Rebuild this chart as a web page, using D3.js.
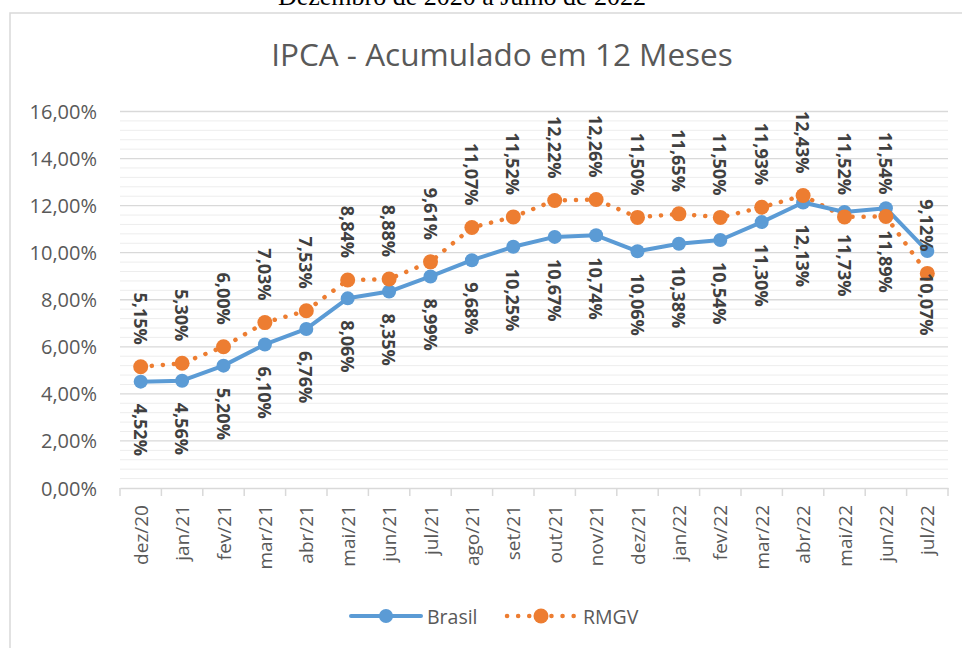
<!DOCTYPE html>
<html>
<head>
<meta charset="utf-8">
<script src="https://cdn.jsdelivr.net/npm/d3@7"></script>
<style>
  body { margin: 0; background: #fff; }
  svg text { font-family: "Open Sans", sans-serif; }
</style>
</head>
<body>
<div id="chart"></div>
<script>
// data
const months = ['dez/20', 'jan/21', 'fev/21', 'mar/21', 'abr/21', 'mai/21', 'jun/21',
  'jul/21', 'ago/21', 'set/21', 'out/21', 'nov/21', 'dez/21', 'jan/22', 'fev/22',
  'mar/22', 'abr/22', 'mai/22', 'jun/22', 'jul/22'];
const brasil = [4.52, 4.56, 5.20, 6.10, 6.76, 8.06, 8.35, 8.99, 9.68, 10.25, 10.67,
  10.74, 10.06, 10.38, 10.54, 11.30, 12.13, 11.73, 11.89, 10.07];
const rmgv = [5.15, 5.30, 6.00, 7.03, 7.53, 8.84, 8.88, 9.61, 11.07, 11.52, 12.22,
  12.26, 11.50, 11.65, 11.50, 11.93, 12.43, 11.52, 11.54, 9.12];
const yTicks = [0, 2, 4, 6, 8, 10, 12, 14, 16];
const seriesNames = ['Brasil', 'RMGV'];

const W = 962, H = 648;
const BLUE = '#5b9bd5', ORANGE = '#ed7d31';
const fmt = v => v.toFixed(2).replace('.', ',') + '%';

const svg = d3.select('#chart').append('svg')
  .attr('width', W)
  .attr('height', H);

// chart frame, runs past the right and bottom edge
svg.append('rect')
  .attr('x', 10).attr('y', 13)
  .attr('width', 1000).attr('height', 700)
  .attr('fill', '#fff')
  .attr('stroke', '#d9d9d9')
  .attr('stroke-width', 1.5);

// caption above the chart (cut at the top in the source too)
svg.append('text')
  .attr('x', 462).attr('y', 5)
  .attr('text-anchor', 'middle')
  .style('font-family', '"Liberation Serif", serif')
  .style('font-size', '26px')
  .attr('fill', '#000')
  .text('Dezembro de 2020 a Julho de 2022');

svg.append('text')
  .attr('x', 502).attr('y', 66)
  .attr('text-anchor', 'middle')
  .style('font-size', '31.5px')
  .attr('fill', '#595959')
  .text('IPCA - Acumulado em 12 Meses');

const sx = d3.scaleBand()
  .domain(months)
  .range([120, 948]);

const sy = d3.scaleLinear()
  .domain([0, 16])
  .range([488, 111.5]);

const cx = d => sx(d) + sx.bandwidth() / 2;

// minor gridlines
svg.append('g')
  .selectAll('line')
  .data(d3.range(0.4, 16, 0.4).filter(v => Math.abs(v / 2 - Math.round(v / 2)) > 0.01))
  .join('line')
  .attr('x1', 120).attr('x2', 948)
  .attr('y1', d => sy(d)).attr('y2', d => sy(d))
  .attr('stroke', '#ededed')
  .attr('stroke-width', 1);

// major gridlines
svg.append('g')
  .selectAll('line')
  .data(yTicks.slice(1))
  .join('line')
  .attr('x1', 120).attr('x2', 948)
  .attr('y1', d => sy(d)).attr('y2', d => sy(d))
  .attr('stroke', '#d9d9d9')
  .attr('stroke-width', 1.3);

// y labels
svg.append('g')
  .selectAll('text')
  .data(yTicks)
  .join('text')
  .attr('x', 97)
  .attr('y', d => sy(d))
  .attr('text-anchor', 'end')
  .attr('dominant-baseline', 'central')
  .style('font-size', '20px')
  .attr('fill', '#595959')
  .text(d => fmt(d));

// x axis
const xAxis = svg.append('g')
  .attr('transform', 'translate(0,488)')
  .call(d3.axisBottom(sx).tickSize(0).tickFormat(''));
xAxis.select('.domain').attr('stroke', '#d9d9d9').attr('stroke-width', 1.5);
xAxis.selectAll('.bound')
  .data(d3.range(months.length + 1))
  .join('line')
  .attr('class', 'bound')
  .attr('x1', i => 120 + i * sx.step()).attr('x2', i => 120 + i * sx.step())
  .attr('y1', 0).attr('y2', 8)
  .attr('stroke', '#d9d9d9')
  .attr('stroke-width', 1.5);

svg.append('g')
  .selectAll('text')
  .data(months)
  .join('text')
  .attr('transform', d => 'translate(' + cx(d) + ',505) rotate(-90)')
  .attr('text-anchor', 'end')
  .attr('dominant-baseline', 'central')
  .style('font-size', '19px')
  .attr('fill', '#595959')
  .text(d => d);

const line = d3.line()
  .x((d, i) => cx(months[i]))
  .y(d => sy(d));

// RMGV: dotted orange
svg.append('path')
  .datum(rmgv)
  .attr('d', line)
  .attr('fill', 'none')
  .attr('stroke', ORANGE)
  .attr('stroke-width', 4.5)
  .attr('stroke-linecap', 'round')
  .attr('stroke-dasharray', '0.1 11');

// Brasil: solid blue
svg.append('path')
  .datum(brasil)
  .attr('d', line)
  .attr('fill', 'none')
  .attr('stroke', BLUE)
  .attr('stroke-width', 4)
  .attr('stroke-linejoin', 'round');

svg.append('g')
  .selectAll('circle')
  .data(brasil)
  .join('circle')
  .attr('cx', (d, i) => cx(months[i]))
  .attr('cy', d => sy(d))
  .attr('r', 7)
  .attr('fill', BLUE);

svg.append('g')
  .selectAll('circle')
  .data(rmgv)
  .join('circle')
  .attr('cx', (d, i) => cx(months[i]))
  .attr('cy', d => sy(d))
  .attr('r', 7.5)
  .attr('fill', ORANGE);

// data labels, rotated
svg.append('g')
  .selectAll('text')
  .data(brasil)
  .join('text')
  .attr('transform', (d, i) => 'translate(' + cx(months[i]) + ',' + (sy(d) + 22) + ') rotate(90)')
  .attr('text-anchor', 'start')
  .attr('dominant-baseline', 'central')
  .style('font-size', '18px')
  .style('font-weight', 'bold')
  .attr('fill', '#404040')
  .text(d => fmt(d));

svg.append('g')
  .selectAll('text')
  .data(rmgv)
  .join('text')
  .attr('transform', (d, i) => 'translate(' + cx(months[i]) + ',' + (sy(d) - 22) + ') rotate(90)')
  .attr('text-anchor', 'end')
  .attr('dominant-baseline', 'central')
  .style('font-size', '18px')
  .style('font-weight', 'bold')
  .attr('fill', '#404040')
  .text(d => fmt(d));

// legend
const legend = svg.append('g').attr('transform', 'translate(0,616)');
const lb = legend.append('g').attr('transform', 'translate(351,0)');
lb.append('line').attr('x1', 0).attr('x2', 70)
  .attr('stroke', BLUE).attr('stroke-width', 4).attr('stroke-linecap', 'round');
lb.append('circle').attr('cx', 35).attr('r', 7).attr('fill', BLUE);
lb.append('text').attr('x', 76).attr('dominant-baseline', 'central')
  .style('font-size', '19.5px').attr('fill', '#595959').text(seriesNames[0]);

const lr = legend.append('g').attr('transform', 'translate(507,0)');
lr.append('line').attr('x1', 0).attr('x2', 70)
  .attr('stroke', ORANGE).attr('stroke-width', 4.5)
  .attr('stroke-linecap', 'round').attr('stroke-dasharray', '0.1 11');
lr.append('circle').attr('cx', 34).attr('r', 7.5).attr('fill', ORANGE);
lr.append('text').attr('x', 76).attr('dominant-baseline', 'central')
  .style('font-size', '19.5px').attr('fill', '#595959').text(seriesNames[1]);
</script>
</body>
</html>
